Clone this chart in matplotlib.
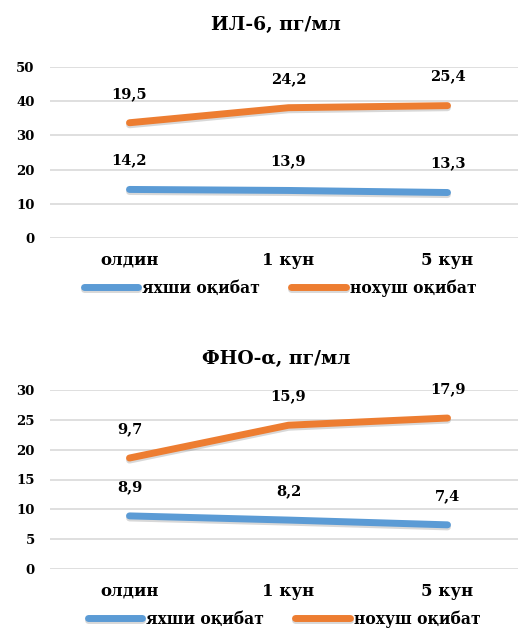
import matplotlib
matplotlib.use("Agg")
import matplotlib.pyplot as plt
import matplotlib.patheffects as pe
import numpy as np

plt.rcParams['font.family'] = ['DejaVu Serif']
plt.rcParams['font.weight'] = 'bold'

categories = ['олдин', '1 кун', '5 кун']
series_names = ['яхши оқибат', 'нохуш оқибат']

il6_title = 'ИЛ-6, пг/мл'
il6_good = [14.2, 13.9, 13.3]
il6_bad = [19.5, 24.2, 25.4]
il6_ticks = [0, 10, 20, 30, 40, 50]

tnf_title = 'ФНО-α, пг/мл'
tnf_good = [8.9, 8.2, 7.4]
tnf_bad = [9.7, 15.9, 17.9]
tnf_ticks = [0, 5, 10, 15, 20, 25, 30]

BLUE = '#5B9BD5'
ORANGE = '#ED7D31'
GRID = '#D9D9D9'
W, H = 518, 631

fig = plt.figure(figsize=(W / 100, H / 100), dpi=100)
shadow = [pe.SimpleLineShadow(offset=(0, -1.5), shadow_color='#808080', alpha=0.3),
          pe.Normal()]


def panel(title, good, bad, ticks, y0, y_top, title_y, legend_y, legend_x):
    # axes rect in pixels: bottom of plot at y0, top tick at y_top
    ax = fig.add_axes([50 / W, 1 - y0 / H, 477 / W, (y0 - y_top) / H])
    x = np.arange(len(categories))
    good = np.array(good)
    stacked = good + np.array(bad)  # stacked line chart
    l1, = ax.plot(x, good, color=BLUE, lw=5, solid_capstyle='round',
                  path_effects=shadow, zorder=3)
    l2, = ax.plot(x, stacked, color=ORANGE, lw=5, solid_capstyle='round',
                  path_effects=shadow, zorder=3)
    for xi, yi, v in zip(x, good, good):
        ax.annotate(f'{v:.1f}'.replace('.', ','), (xi, yi), xytext=(0, 18),
                    textcoords='offset points', ha='center', va='baseline',
                    fontsize=10.5)
    for xi, yi, v in zip(x, stacked, bad):
        ax.annotate(f'{v:.1f}'.replace('.', ','), (xi, yi), xytext=(0, 18),
                    textcoords='offset points', ha='center', va='baseline',
                    fontsize=10.5)
    ax.set_xlim(-0.5, 2.5)
    ax.set_ylim(ticks[0], ticks[-1])
    ax.set_yticks(ticks)
    ax.set_xticks(x)
    ax.set_xticklabels(categories, fontsize=12)
    ax.tick_params(axis='y', length=0, pad=11, labelsize=9.5)
    ax.tick_params(axis='x', length=0, pad=10)
    ax.grid(axis='y', color=GRID, lw=1.2)
    ax.set_axisbelow(True)
    for s in ax.spines.values():
        s.set_visible(False)
    fig.text(276 / W, 1 - title_y / H, title, ha='center', va='center',
             fontsize=13.5)
    fig.legend([l1, l2], series_names, ncol=2, loc='center',
               bbox_to_anchor=(legend_x / W, 1 - legend_y / H),
               frameon=False, fontsize=11.2, handlelength=3.5,
               handletextpad=0.25, columnspacing=2.0)


panel(il6_title, il6_good, il6_bad, il6_ticks, 238, 67, 25, 288, 280)
panel(tnf_title, tnf_good, tnf_bad, tnf_ticks, 569, 390, 359, 619, 284)

fig.savefig('out.png', dpi=100, facecolor='white')
